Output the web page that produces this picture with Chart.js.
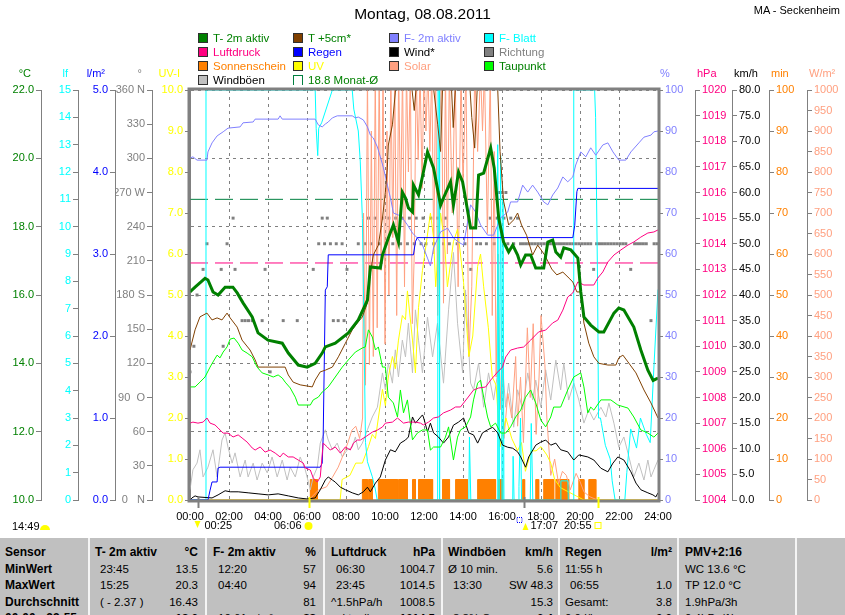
<!DOCTYPE html>
<html lang="de">
<head>
<meta charset="utf-8">
<title>Montag, 08.08.2011 - MA - Seckenheim</title>
<script src="https://cdn.jsdelivr.net/npm/chart.js@4.4.1/dist/chart.umd.min.js"></script>
<style>
body { margin: 0; background: #fff; font-family: "Liberation Sans", Arial, sans-serif; }
#wrap { position: relative; width: 845px; height: 615px; overflow: hidden; }
#wetterChart { position: absolute; left: 0; top: 0; }
#titel { position: absolute; left: 0; top: 5px; width: 845px; text-align: center; font-size: 15.5px; }
#station { position: absolute; right: 5px; top: 4px; font-size: 11px; }
#legend { position: absolute; left: 198px; top: 31px; display: grid; grid-template-columns: 95px 96px 95px 96px; }
.legend-item { display: flex; align-items: center; height: 14px; font-size: 11.5px; white-space: nowrap; }
.legend-color { width: 8px; height: 8px; border: 1px solid #303030; margin-right: 5px; flex: none; }
#tabelle { position: absolute; left: 0; top: 538px; width: 845px; height: 90px; background: #c0c0c0; display: flex; padding-top: 6px; box-sizing: border-box; }
.spalte { height: 100%; box-sizing: border-box; }
.spalte + .spalte { border-left: 2px solid #f4f4f4; margin-top: -6px; padding-top: 6px; }
.z { height: 16.5px; line-height: 16.5px; display: flex; justify-content: space-between; font-size: 11.5px; white-space: nowrap; }
.b { font-weight: bold; font-size: 12px; }
.e { padding-left: 5px; }
</style>
</head>
<body>
<div id="wrap">
  <canvas id="wetterChart" width="845" height="535"></canvas>
  <div id="titel">Montag, 08.08.2011</div>
  <div id="station">MA - Seckenheim</div>
  <div id="legend"></div>

  <div id="tabelle">
    <div class="spalte" style="width:88px; padding-left:5px">
      <div class="z b">Sensor</div>
      <div class="z b">MinWert</div>
      <div class="z b">MaxWert</div>
      <div class="z b">Durchschnitt</div>
      <div class="z b">00:00 - 23:55</div>
    </div>
    <div class="spalte" style="width:117px; padding-left:5px; padding-right:7px">
      <div class="z b"><span>T- 2m aktiv</span><span>°C</span></div>
      <div class="z"><span class="e">23:45</span><span>13.5</span></div>
      <div class="z"><span class="e">15:25</span><span>20.3</span></div>
      <div class="z"><span class="e">( - 2.37 )</span><span>16.43</span></div>
      <div class="z"><span></span><b>13.6</b></div>
    </div>
    <div class="spalte" style="width:118px; padding-left:6px; padding-right:7px">
      <div class="z b"><span>F- 2m aktiv</span><span>%</span></div>
      <div class="z"><span class="e">12:20</span><span>57</span></div>
      <div class="z"><span class="e">04:40</span><span>94</span></div>
      <div class="z"><span></span><span>81</span></div>
      <div class="z"><span class="e">10.61 g/m³</span><b>88</b></div>
    </div>
    <div class="spalte" style="width:118px; padding-left:6px; padding-right:6px">
      <div class="z b"><span>Luftdruck</span><span>hPa</span></div>
      <div class="z"><span class="e">06:30</span><span>1004.7</span></div>
      <div class="z"><span class="e">23:45</span><span>1014.5</span></div>
      <div class="z"><span>^1.5hPa/h</span><span>1008.5</span></div>
      <div class="z"><span class="e">aktuell</span><b>▲1014.5</b></div>
    </div>
    <div class="spalte" style="width:117px; padding-left:5px; padding-right:5px">
      <div class="z b"><span>Windböen</span><span>km/h</span></div>
      <div class="z"><span>Ø 10 min.</span><span>5.6</span></div>
      <div class="z"><span class="e">13:30</span><span>SW 48.3</span></div>
      <div class="z"><span></span><span>15.3</span></div>
      <div class="z"><span class="e">3.8% S</span><b>6.4</b></div>
    </div>
    <div class="spalte" style="width:119px; padding-left:5px; padding-right:5px">
      <div class="z b"><span>Regen</span><span>l/m²</span></div>
      <div class="z"><span>11:55 h</span><span></span></div>
      <div class="z"><span class="e">06:55</span><span>1.0</span></div>
      <div class="z"><span>Gesamt:</span><span>3.8</span></div>
      <div class="z"><span>0.0 l/h</span><b>0.0</b></div>
    </div>
    <div class="spalte" style="width:118px; padding-left:6px">
      <div class="z b">PMV+2:16</div>
      <div class="z">WC 13.6 °C</div>
      <div class="z">TP 12.0 °C</div>
      <div class="z">1.9hPa/3h</div>
      <div class="z">0.4hPa/1h</div>
    </div>
    <div class="spalte" style="width:50px"></div>
  </div>
</div>

<script>
// Messwerte 08.08.2011, je Paar [Stunde, Wert]
var t2m = [[0,16.09],[0.26,16.23],[0.77,16.49],[0.92,16.44],[1.18,16.09],[1.44,16.0],[1.8,16.23],[2.2,16.23],[2.42,16.06],[2.72,15.77],[3.19,15.36],[3.49,14.89],[4.0,14.68],[4.73,14.59],[5.04,14.3],[5.55,13.95],[6.01,13.89],[6.42,14.0],[6.78,14.3],[6.94,14.48],[7.45,14.59],[8.12,14.89],[8.63,15.27],[9.1,15.85],[9.25,16.82],[9.76,16.79],[9.87,17.17],[10.17,17.67],[10.43,18.05],[10.69,17.55],[10.89,19.01],[11.05,18.84],[11.2,18.55],[11.41,18.43],[11.46,19.22],[11.72,18.93],[11.97,19.6],[12.18,20.19],[12.49,19.72],[12.85,18.63],[13.0,18.84],[13.36,19.31],[13.51,18.63],[13.77,19.6],[13.98,19.31],[14.39,17.96],[14.65,17.96],[14.8,19.51],[15.06,19.57],[15.42,20.3],[15.6,19.72],[15.83,18.25],[16.08,17.55],[16.34,17.26],[16.55,17.46],[16.8,17.17],[16.96,16.88],[17.21,17.17],[17.47,17.17],[17.73,16.79],[18.14,16.79],[18.35,17.55],[18.6,17.61],[18.76,17.26],[19.01,17.11],[19.17,17.38],[19.53,17.32],[19.89,17.08],[20.04,16.09],[20.2,15.36],[20.55,15.12],[20.97,14.92],[21.22,14.92],[21.74,15.47],[21.99,15.62],[22.25,15.56],[22.76,15.06],[23.12,14.39],[23.48,13.8],[23.75,13.5],[24,13.57]];

var t5cm = [[0,14.39],[0.26,14.98],[0.51,15.36],[0.87,15.47],[1.13,15.27],[1.39,15.33],[1.64,15.27],[1.9,15.47],[2.06,15.33],[2.42,15.06],[2.67,14.68],[3.08,14.39],[3.34,14.1],[3.49,13.89],[3.85,13.89],[4.88,13.89],[5.04,13.66],[5.29,13.45],[5.65,13.37],[6.27,13.31],[6.42,13.51],[6.68,13.75],[6.94,13.8],[7.3,13.89],[7.61,14.19],[7.97,14.59],[8.32,14.98],[8.58,15.18],[8.84,15.36],[9.1,15.77],[9.15,16.29],[9.4,17.17],[9.66,17.46],[9.87,18.25],[10.02,19.01],[10.12,19.72],[10.17,20.39],[10.38,20.98],[10.53,21.94],[10.8,23.5],[11.2,23],[11.5,21.4],[11.8,23.5],[12.3,23],[12.7,21.0],[12.85,20.2],[13.0,23],[13.3,23.5],[13.5,20.9],[13.7,23],[14.2,23.5],[14.45,21.2],[14.6,20.3],[14.8,23],[15.5,24],[15.75,22.5],[15.9,20.2],[16.08,18.75],[16.34,18.05],[16.6,18.2],[16.8,18.4],[17.0,18.05],[17.26,17.75],[17.57,17.17],[17.83,17.46],[18.19,17.17],[18.55,16.76],[18.81,16.59],[19.12,16.67],[19.48,16.47],[19.63,16.38],[19.84,16.09],[20.04,16.09],[20.2,15.18],[20.45,14.59],[20.71,14.19],[20.97,14.0],[21.43,13.95],[21.84,13.95],[21.99,14.16],[22.2,14.24],[22.46,14.04],[22.87,13.72],[23.28,13.22],[23.64,12.84],[24,12.4]];

var taupunkt = [[0,13.31],[0.26,13.31],[0.51,13.45],[0.77,13.6],[1.03,13.89],[1.18,14.04],[1.39,14.24],[1.54,14.16],[1.7,14.33],[1.9,14.48],[2.06,14.71],[2.26,14.74],[2.47,14.59],[2.67,14.39],[2.93,14.3],[3.19,14.19],[3.44,13.89],[3.7,13.72],[4.01,13.66],[4.27,13.6],[4.52,13.66],[4.73,13.57],[4.88,13.45],[5.14,13.28],[5.4,13.01],[5.55,12.78],[6.17,12.78],[6.32,12.93],[6.58,13.01],[6.78,13.16],[7.09,13.31],[7.45,13.6],[7.81,13.89],[8.12,14.1],[8.48,14.33],[8.84,14.45],[8.99,14.48],[9.15,14.98],[9.35,14.77],[9.51,14.39],[9.66,14.48],[9.87,13.89],[10.02,13.89],[10.17,13.01],[10.43,12.84],[10.64,12.43],[10.79,13.22],[10.95,12.55],[11.15,12.93],[11.41,11.76],[11.66,11.96],[11.92,12.05],[12.18,12.05],[12.33,11.46],[12.49,11.55],[12.85,11.55],[13.1,11.84],[13.26,12.14],[13.51,11.17],[13.72,11.84],[13.87,12.05],[14.13,12.14],[14.39,12.43],[14.54,12.93],[14.75,13.42],[14.9,13.51],[15.06,13.01],[15.26,12.43],[15.42,12.14],[15.67,12.25],[15.93,11.96],[16.19,11.96],[16.44,12.14],[16.7,12.43],[16.96,12.63],[17.21,13.01],[17.47,13.22],[17.73,12.84],[17.99,12.34],[18.24,12.14],[18.5,12.43],[18.65,12.72],[19.01,12.72],[19.37,13.22],[19.68,13.6],[20.04,13.72],[20.2,13.31],[20.4,12.55],[20.55,12.72],[20.71,12.63],[21.07,12.93],[21.58,12.93],[21.94,12.78],[22.46,12.69],[22.76,12.43],[23.12,12.05],[23.48,11.96],[23.79,11.84],[24,11.96]];

var feuchte = [[0,83.4],[0.15,83.7],[0.36,82.9],[0.87,82.9],[0.92,84.9],[1.13,87.1],[1.39,88.8],[1.7,89.8],[1.95,90.7],[2.57,91.0],[2.72,92.0],[3.24,92.2],[3.34,92.9],[4.52,92.9],[4.62,93.7],[4.73,92.9],[6.42,92.9],[6.58,91.5],[6.78,91.0],[6.94,91.7],[7.09,92.2],[7.3,93.2],[7.55,93.7],[8.32,93.7],[8.48,93.2],[8.63,93.4],[8.89,92.7],[9.1,91.0],[9.25,89.0],[9.4,88.3],[9.61,86.1],[9.76,83.7],[9.92,81.0],[10.12,76.8],[10.28,73.7],[10.43,70.0],[10.69,69.5],[10.89,68.8],[11.15,67.1],[11.41,65.1],[11.66,63.9],[11.92,62.2],[12.18,59.0],[12.33,57.1],[12.49,61.5],[12.85,65.4],[13.21,66.3],[13.51,63.9],[13.77,62.9],[14.03,62.2],[14.39,72.0],[14.65,70.2],[14.9,67.1],[15.26,64.6],[15.57,64.6],[15.93,68.8],[16.29,70.2],[16.44,72.7],[16.8,72.7],[17.06,76.8],[17.32,75.1],[17.57,76.8],[17.83,75.1],[18.14,72.7],[18.35,72.0],[18.6,74.4],[18.86,76.1],[19.12,78.8],[19.37,77.6],[19.63,78.8],[19.78,81.7],[20.04,84.9],[20.3,83.7],[20.55,85.9],[20.81,84.1],[21.17,86.6],[21.43,87.1],[21.69,84.9],[21.99,82.9],[22.35,82.9],[22.61,84.9],[23.02,87.1],[23.28,88.5],[23.64,89.0],[23.79,89.8],[24,90.0]];

var blatt = [[0,0],[0.8,0],[0.82,15],[6.42,15],[6.47,13.6],[6.55,12.6],[6.6,13.6],[6.75,13.8],[7.3,15],[8.32,15],[8.4,14.3],[8.63,13.5],[8.73,12.4],[8.84,10.3],[8.89,7.9],[9.0,2.1],[9.1,1.4],[9.35,0.85],[9.5,0.4],[9.6,0],[12.7,0],[12.72,15],[12.77,15],[12.8,0],[14.3,0],[14.33,2.3],[14.4,0],[15.75,0],[15.78,13.0],[15.85,0],[15.93,12.6],[16.0,0],[16.05,11.0],[16.1,0],[16.55,0],[16.57,1.6],[16.62,0],[16.85,0],[16.87,0.5],[16.95,3.0],[17.0,0],[17.45,0],[17.5,2.8],[17.58,0],[19.0,0],[19.02,0.7],[19.38,0.7],[19.4,0],[19.66,0],[19.68,15],[20.75,15],[20.8,14.0],[20.9,8],[20.95,3.0],[21.05,3.0],[21.1,2.8],[21.3,2.0],[21.55,1.5],[21.65,0.7],[21.8,0],[22.3,0],[22.4,1.0],[22.6,2.6],[22.9,1.9],[23.1,3.0],[23.4,2.4],[23.6,2.1],[23.8,5.0],[24,7.7]];

var luftdruck = [[0,1007.0],[0.15,1007.04],[0.41,1007.0],[0.67,1007.04],[0.87,1007.2],[1.03,1007.0],[1.28,1006.93],[1.44,1006.81],[1.7,1006.61],[1.95,1006.61],[2.21,1006.46],[2.47,1006.54],[2.67,1006.42],[2.93,1006.26],[3.19,1006.03],[3.34,1005.95],[3.6,1006.07],[3.85,1005.87],[4.11,1005.95],[4.37,1005.83],[4.62,1005.68],[4.78,1005.83],[5.04,1005.68],[5.29,1005.68],[5.55,1005.56],[5.81,1005.44],[5.91,1005.25],[6.17,1005.17],[6.32,1004.86],[6.53,1004.7],[6.68,1004.9],[6.83,1006.22],[7.04,1006.07],[7.19,1005.95],[7.45,1006.07],[7.71,1005.83],[7.97,1006.07],[8.22,1005.95],[8.38,1006.22],[8.58,1006.34],[8.74,1006.34],[8.99,1006.46],[9.35,1006.65],[9.61,1006.73],[9.87,1006.85],[10.02,1007.0],[10.38,1007.04],[10.64,1007.2],[10.95,1007.0],[11.2,1007.04],[11.56,1007.04],[11.82,1007.0],[11.97,1006.93],[12.23,1007.04],[12.49,1007.2],[12.74,1007.24],[13.0,1007.4],[13.36,1007.51],[13.62,1007.63],[13.87,1007.63],[14.23,1007.98],[14.54,1008.29],[14.8,1008.37],[15.16,1008.41],[15.42,1008.68],[15.78,1009.0],[16.03,1009.19],[16.19,1009.58],[16.44,1009.85],[16.8,1009.93],[17.11,1009.97],[17.47,1010.24],[17.88,1010.56],[18.24,1010.63],[18.6,1010.91],[18.86,1011.02],[19.12,1011.41],[19.37,1011.92],[19.63,1012.08],[19.89,1012.51],[20.2,1012.39],[20.71,1012.39],[20.91,1012.66],[21.17,1012.9],[21.43,1013.29],[21.74,1013.56],[22.1,1013.76],[22.46,1013.95],[22.76,1014.07],[23.12,1014.26],[23.48,1014.42],[23.79,1014.46],[24,1014.54]];

var regen = [[0,0],[0.92,0],[1.03,0.12],[1.13,0.22],[1.39,0.22],[1.44,0.39],[1.54,0.4],[6.68,0.4],[6.78,0.45],[6.83,0.77],[6.94,2.56],[7.04,2.6],[7.09,2.99],[11.46,2.99],[11.56,3.15],[11.66,3.2],[19.63,3.2],[19.73,3.35],[19.84,3.76],[19.89,3.8],[24,3.8]];

var wind = [[0,0],[0.1,0.4],[0.26,0.8],[0.41,0.6],[1.13,0.4],[1.44,1.0],[1.8,1.8],[2.06,1.6],[2.47,1.6],[2.98,1.4],[3.49,1.2],[4.01,1.0],[4.52,1.2],[5.04,0.8],[5.55,0.4],[6.01,0.2],[6.42,0.4],[6.68,2.0],[6.94,3.9],[7.09,4.5],[7.3,3.9],[7.45,3.5],[7.71,2.5],[7.97,2.0],[8.32,1.4],[8.63,1.0],[8.89,1.6],[9.1,2.5],[9.25,1.6],[9.51,3.3],[9.76,4.5],[10.02,7.8],[10.28,9.8],[10.53,9.4],[10.79,11.1],[11.05,11.7],[11.2,12.3],[11.41,16.2],[11.56,15.0],[11.92,16.6],[11.97,16.2],[12.18,13.3],[12.33,15.0],[12.49,13.1],[12.74,12.3],[13.0,11.1],[13.26,12.3],[13.51,14.6],[13.77,15.2],[14.03,16.0],[14.29,13.1],[14.54,12.7],[14.75,11.1],[15.0,13.1],[15.26,13.7],[15.52,14.2],[15.78,13.1],[16.03,10.7],[16.29,10.3],[16.55,10.1],[16.8,9.4],[16.96,8.4],[17.21,6.4],[17.37,8.4],[17.73,10.7],[17.99,11.3],[18.24,11.7],[18.5,10.7],[18.76,11.1],[19.01,9.8],[19.37,9.4],[19.68,7.8],[19.94,8.8],[20.4,8.4],[20.71,7.8],[21.07,6.2],[21.43,5.5],[21.69,7.2],[21.94,8.4],[22.25,7.8],[22.61,5.5],[22.87,3.3],[23.12,2.0],[23.48,1.4],[23.74,1.0],[23.89,0.6],[24,1.4]];

var boeen = [[0,2.0],[0.15,5.9],[0.36,7.2],[0.51,9.8],[0.67,4.5],[0.92,6.4],[1.18,9.8],[1.39,4.5],[1.64,11.7],[1.8,13.1],[1.95,10.3],[2.16,7.2],[2.31,9.2],[2.57,4.5],[2.83,7.8],[2.98,4.5],[3.24,7.2],[3.44,3.9],[3.7,7.2],[3.96,5.3],[4.21,8.4],[4.47,4.5],[4.73,7.8],[4.98,3.9],[5.14,6.4],[5.4,4.5],[5.65,8.4],[5.91,5.9],[6.17,2.0],[6.32,4.5],[6.53,6.4],[6.68,11.1],[6.94,13.7],[7.09,11.7],[7.3,9.8],[7.55,11.1],[7.81,8.4],[8.07,9.8],[8.32,10.3],[8.48,12.3],[8.63,9.8],[8.84,11.1],[9.1,13.7],[9.35,16.2],[9.61,18.1],[9.87,24.8],[10.02,21.5],[10.17,26.7],[10.38,22.8],[10.53,29.3],[10.69,24.0],[10.89,31.2],[11.05,27.9],[11.2,34.5],[11.41,24.8],[11.56,37.1],[11.72,31.2],[11.92,24.8],[12.18,35.7],[12.44,27.9],[12.69,34.5],[13.0,22.8],[13.26,37.1],[13.51,48.3],[13.72,34.5],[13.98,24.8],[14.13,41.0],[14.39,22.8],[14.54,21.5],[14.8,26.7],[15.06,18.1],[15.31,24.8],[15.57,19.5],[15.78,24.8],[16.03,26.0],[16.19,18.1],[16.34,22.8],[16.6,14.2],[16.8,21.5],[17.06,17.6],[17.32,24.8],[17.57,19.5],[17.73,23.4],[17.99,18.1],[18.24,25.4],[18.5,19.5],[18.76,27.3],[19.01,21.5],[19.17,26.7],[19.42,19.5],[19.68,22.8],[19.94,19.5],[20.2,15.0],[20.45,17.6],[20.71,15.6],[21.07,18.1],[21.33,16.2],[21.48,18.9],[21.74,15.0],[21.99,10.3],[22.25,12.3],[22.51,8.4],[22.76,4.5],[23.02,7.2],[23.28,3.9],[23.48,7.8],[23.64,4.5],[23.79,5.9],[24,7.8]];

var uv = [[0,0],[7.7,0],[7.8,0.5],[8.2,0.6],[8.5,0.9],[8.84,0.9],[9.15,1.3],[9.35,1.6],[9.51,1.5],[9.66,2.0],[9.87,2.7],[10.02,2.3],[10.17,3.0],[10.38,3.5],[10.53,3.2],[10.69,3.9],[10.89,4.5],[11.05,4.4],[11.15,5.1],[11.41,3.9],[11.56,3.1],[11.72,4.7],[11.92,5.6],[12.1,6.2],[12.33,7.0],[12.49,6.4],[12.6,5.2],[12.85,7.0],[13.05,6.3],[13.2,5.2],[13.51,6.3],[13.72,6.6],[13.87,6.0],[14.03,5.3],[14.3,3.5],[14.5,4.0],[14.75,5.7],[14.9,6.0],[15.06,5.2],[15.3,4.2],[15.5,3.0],[15.7,2.8],[15.9,1.3],[16.2,2.0],[16.5,1.5],[16.8,1.2],[17.0,1.4],[17.2,0.7],[17.5,1.2],[17.75,1.2],[18.0,1.3],[18.3,1.1],[18.5,0.9],[18.7,0.5],[19.0,0.3],[19.4,0.2],[19.8,0.1],[20.2,0],[24,0]];

var solar = [[0,0],[6.1,0],[6.3,10],[6.6,25],[7.0,32],[7.3,55],[7.6,80],[7.9,115],[8.1,140],[8.3,170],[8.5,180],[8.7,150],[8.85,200],[8.9,700],[9.0,280],[9.1,1050],[9.2,330],[9.3,900],[9.4,350],[9.5,1050],[9.6,420],[9.7,1050],[9.8,560],[9.9,1050],[10.0,380],[10.1,900],[10.2,500],[10.3,1050],[10.4,640],[10.5,1050],[10.6,450],[10.7,1050],[10.8,700],[10.9,1050],[11.0,520],[11.1,1050],[11.2,800],[11.3,1050],[11.4,430],[11.5,600],[11.6,1050],[11.7,830],[11.8,1050],[11.9,760],[12.0,1050],[12.1,900],[12.2,1050],[12.3,850],[12.4,1050],[12.5,600],[12.6,1050],[12.7,450],[12.8,880],[12.9,1050],[13.0,480],[13.1,1050],[13.2,600],[13.3,1050],[13.45,700],[13.6,1050],[13.75,520],[13.9,1050],[14.0,760],[14.15,1050],[14.3,350],[14.45,520],[14.6,1050],[14.75,850],[14.9,1050],[15.0,900],[15.1,1050],[15.25,650],[15.4,1050],[15.5,450],[15.6,850],[15.7,300],[15.8,600],[15.9,220],[16.0,350],[16.1,150],[16.3,260],[16.5,200],[16.7,350],[16.8,180],[16.95,300],[17.1,140],[17.3,420],[17.45,250],[17.6,430],[17.75,160],[17.9,300],[18.0,450],[18.2,330],[18.3,200],[18.5,60],[18.7,100],[18.9,40],[19.1,70],[19.3,60],[19.5,25],[19.8,65],[20.0,45],[20.2,20],[20.5,8],[20.9,0],[24,0]];

var richtung = [[0.0,112.5],[0.2,135],[0.36,180],[0.67,202.5],[0.87,225],[1.6,202.5],[1.7,135],[1.9,225],[2.21,247.5],[2.31,202.5],[2.67,157.5],[2.83,157.5],[3.0,157.5],[3.19,157.5],[3.7,157.5],[3.85,202.5],[4.11,112.5],[4.78,157.5],[5.5,157.5],[6.32,202.5],[6.6,225],[6.78,247.5],[6.9,225],[7.04,247.5],[7.2,225],[7.35,157.5],[7.5,225],[7.6,157.5],[7.8,225],[7.9,157.5],[8.05,202.5],[8.63,225],[9.0,225],[9.15,247.5],[9.3,225],[9.5,247.5],[9.7,225],[9.85,247.5],[10.05,225],[10.2,247.5],[10.4,225],[10.55,247.5],[10.8,225],[10.9,247.5],[11.15,225],[11.25,247.5],[11.5,225],[11.6,247.5],[11.85,225],[11.95,247.5],[12.1,225],[12.35,247.5],[12.5,225],[12.7,247.5],[13.0,225],[13.1,247.5],[13.3,225],[13.7,225],[14.1,225],[14.4,202.5],[14.7,225],[14.9,225],[15.2,225],[15.4,247.5],[15.6,225],[15.75,247.5],[15.85,270],[16.0,270],[16.1,247.5],[16.2,270],[16.3,225],[16.45,247.5],[16.6,225],[16.8,247.5],[16.95,225],[17.1,225],[17.25,225],[17.4,225],[17.55,225],[17.7,225],[17.85,225],[18.0,225],[18.15,225],[18.3,225],[18.45,225],[18.6,225],[18.75,225],[18.9,225],[19.05,225],[19.2,225],[19.35,225],[19.5,225],[19.65,225],[19.8,225],[19.95,225],[20.1,225],[20.25,225],[20.4,225],[20.55,225],[20.7,202.5],[20.85,225],[21.0,225],[21.15,225],[21.3,225],[21.45,225],[21.6,225],[21.75,225],[21.9,225],[22.05,225],[22.2,225],[22.35,225],[22.6,202.5],[22.8,225],[22.95,225],[23.1,225],[23.25,225],[23.4,225],[23.64,157.5],[23.8,225],[23.95,225]];

// Sonnenschein: Intervalle mit 5 min Sonne je 5-Minuten-Takt
var sonnenIntervalle = [[6.17,6.53],[8.84,9.1],[9.15,9.35],[9.66,10.64],[10.69,11.15],[11.41,11.56],[11.72,12.44],[12.95,13.31],[13.62,14.23],[14.75,15.67],[15.83,16.03],[17.06,17.16],[17.73,17.88],[18.14,18.65],[18.76,19.42],[19.94,20.2],[20.45,20.81]];
var sonnenMinuten = 5;

var monatMittel = 18.8;
var normalDruck = 1013.25;

var zeitLabels = ['00:00', '02:00', '04:00', '06:00', '08:00', '10:00', '12:00', '14:00', '16:00', '18:00', '20:00', '22:00', '24:00'];
var richtungLabels = { 360: '360 N', 270: '270 W', 180: '180 S', 90: '90  O', 0: '0   N' };

// Auf- und Untergang (Mond / Sonne)
var astroZeiten = [0.4167, 6.1, 17.1167, 20.9167];
var astroTexte = ['00:25', '06:06', '17:07', '20:55'];
var astroArt = ['mondUnter', 'sonneAuf', 'mondAuf', 'sonneUnter'];
var tageslaenge = '14:49';

var einheiten = {
    temp: ['°C', '#008000'], blatt: ['lf', '#00FFFF'], regen: ['l/m²', '#0000FF'], richtung: ['°', '#808080'], uv: ['UV-I', '#FFFF00'],
    feuchte: ['%', '#8080FF'], druck: ['hPa', '#FF0080'], wind: ['km/h', '#000000'], sonne: ['min', '#FF8000'], solar: ['W/m²', '#FFA080']
};

var legende = [
    ['T- 2m aktiv', '#008000', '#008000'], ['T +5cm*', '#804000', '#008000'], ['F- 2m aktiv', '#8080FF', '#8080FF'], ['F- Blatt', '#00FFFF', '#00FFFF'],
    ['Luftdruck', '#FF0080', '#FF0080'], ['Regen', '#0000FF', '#0000FF'], ['Wind*', '#000000', '#000000'], ['Richtung', '#808080', '#808080'],
    ['Sonnenschein', '#FF8000', '#FF8000'], ['UV', '#FFFF00', '#FFFF00'], ['Solar', '#FFA080', '#FFA080'], ['Taupunkt', '#00FF00', '#008000'],
    ['Windböen', '#C0C0C0', '#000000'], ['18.8 Monat-Ø', null, '#008000']
];

function punkte(liste) {
    return liste.map(function (p) { return { x: p[0], y: p[1] }; });
}

function sonnenPunkte() {
    var pts = [{ x: 0, y: 0 }];
    sonnenIntervalle.forEach(function (iv) {
        pts.push({ x: iv[0], y: 0 }, { x: iv[0], y: sonnenMinuten }, { x: iv[1], y: sonnenMinuten }, { x: iv[1], y: 0 });
    });
    pts.push({ x: 24, y: 0 });
    return pts;
}

function achse(pos, min, max, step, farbe, gewicht, breite, format) {
    return {
        type: 'linear', position: pos, min: min, max: max, weight: gewicht,
        afterFit: function (scale) { scale.width = breite; },
        grid: { drawOnChartArea: false, color: '#808080', tickLength: 5, tickBorderDash: [] },
        border: { color: '#808080', width: 1 },
        ticks: { stepSize: step, color: farbe, padding: 2, autoSkip: false, callback: format }
    };
}

function eineStelle(v) { return v.toFixed(1); }
function ganz(v) { return String(v); }

// nur die °C-Achse zeichnet waagrechte Gitterlinien (gestrichelt)
var tempAchse = achse('left', 10, 22, 2, '#008000', 4, 37, eineStelle);
tempAchse.grid = { drawOnChartArea: true, color: '#808080', tickBorderDash: [], tickLength: 5 };
tempAchse.border = { color: '#808080', width: 1, dash: [3, 4] };

var ctx = document.getElementById('wetterChart').getContext('2d');
Chart.defaults.font.family = '"Liberation Sans", Arial, sans-serif';
Chart.defaults.font.size = 11;
Chart.defaults.color = '#000';

var rahmen = {
    id: 'rahmen',
    afterDatasetsDraw: function (chart) {
        var a = chart.chartArea, c = chart.ctx;
        c.save();
        c.strokeStyle = '#808080';
        c.lineWidth = 3;
        c.strokeRect(a.left - 1, a.top - 1, a.right - a.left + 2, a.bottom - a.top + 2);
        c.restore();
    }
};

var einheitenPlugin = {
    id: 'einheiten',
    afterDraw: function (chart) {
        var c = chart.ctx;
        c.save();
        c.font = '11px "Liberation Sans", Arial, sans-serif';
        c.textBaseline = 'middle';
        Object.keys(einheiten).forEach(function (id) {
            var s = chart.scales[id];
            c.fillStyle = einheiten[id][1];
            if (s.position === 'left') {
                c.textAlign = 'right';
                c.fillText(einheiten[id][0], s.right - 10, 74);
            } else {
                c.textAlign = 'left';
                c.fillText(einheiten[id][0], s.left + 2, 74);
            }
        });
        c.restore();
    }
};

var astroPlugin = {
    id: 'astro',
    afterDraw: function (chart) {
        var c = chart.ctx, xs = chart.scales.x, unten = chart.chartArea.bottom, y = 526;
        c.save();
        c.font = '11px "Liberation Sans", Arial, sans-serif';
        c.textBaseline = 'middle';
        astroZeiten.forEach(function (t, i) {
            var x = Math.round(xs.getPixelForValue(t)) + 0.5;
            var art = astroArt[i];
            var sonne = art.indexOf('sonne') === 0;
            c.strokeStyle = sonne ? '#FFFF00' : '#808080';
            c.lineWidth = 2;
            c.beginPath(); c.moveTo(x, unten - 3); c.lineTo(x, unten + 8); c.stroke();
            c.fillStyle = '#000';
            if (art === 'mondUnter') {
                c.fillStyle = '#FFFF00';
                c.beginPath(); c.moveTo(x - 4, y - 5); c.lineTo(x + 2, y - 5); c.lineTo(x - 1, y + 2); c.closePath(); c.fill();
                c.fillStyle = '#000'; c.textAlign = 'left'; c.fillText(astroTexte[i], x + 6, y);
            } else if (art === 'sonneAuf') {
                c.fillStyle = '#FFFF00';
                c.beginPath(); c.arc(x - 1, y, 4, 0, Math.PI * 2); c.fill();
                c.fillStyle = '#000'; c.textAlign = 'right'; c.fillText(astroTexte[i], x - 8, y);
            } else if (art === 'mondAuf') {
                c.strokeStyle = '#0000FF'; c.lineWidth = 1; c.setLineDash([1, 1]);
                c.strokeRect(x - 7.5, y - 8.5, 5, 5); c.setLineDash([]);
                c.fillStyle = '#FFFF00';
                c.beginPath(); c.moveTo(x - 2, y + 4); c.lineTo(x + 4, y + 4); c.lineTo(x + 1, y - 3); c.closePath(); c.fill();
                c.fillStyle = '#000'; c.textAlign = 'left'; c.fillText(astroTexte[i], x + 6, y);
            } else {
                c.strokeStyle = '#FFFF00'; c.lineWidth = 1;
                c.strokeRect(x - 3.5, y - 3.5, 6, 6);
                c.fillStyle = '#000'; c.textAlign = 'right'; c.fillText(astroTexte[i], x - 7, y);
            }
        });
        c.textAlign = 'left';
        c.fillStyle = '#000';
        c.fillText(tageslaenge, 12, y + 1);
        c.fillStyle = '#FFFF00';
        c.beginPath(); c.arc(45, y + 4, 5, Math.PI, 0); c.fill();
        c.restore();
    }
};

var myChart = new Chart(ctx, {
    type: 'line',
    data: {
        datasets: [
            { label: 'T- 2m aktiv', data: punkte(t2m), borderColor: '#008000', borderWidth: 3, yAxisID: 'temp' },
            { label: 'Luftdruck', data: punkte(luftdruck), borderColor: '#FF0080', yAxisID: 'druck' },
            { label: 'Taupunkt', data: punkte(taupunkt), borderColor: '#00FF00', yAxisID: 'temp' },
            { label: 'T +5cm*', data: punkte(t5cm), borderColor: '#804000', yAxisID: 'temp' },
            { label: 'Regen', data: punkte(regen), borderColor: '#0000FF', yAxisID: 'regen' },
            { label: 'Wind*', data: punkte(wind), borderColor: '#000000', yAxisID: 'wind' },
            { label: 'F- 2m aktiv', data: punkte(feuchte), borderColor: '#8080FF', yAxisID: 'feuchte' },
            { label: 'F- Blatt', data: punkte(blatt), borderColor: '#00FFFF', yAxisID: 'blatt' },
            { label: 'UV', data: punkte(uv), borderColor: '#FFFF00', yAxisID: 'uv' },
            { label: 'Solar', data: punkte(solar), borderColor: '#FFA080', yAxisID: 'solar' },
            { label: 'Windböen', data: punkte(boeen), borderColor: '#C0C0C0', yAxisID: 'wind' },
            { label: 'Richtung', data: punkte(richtung), showLine: false, pointStyle: 'rect', pointRadius: 2.1, pointBorderWidth: 0, pointBackgroundColor: '#808080', yAxisID: 'richtung' },
            { label: 'Sonnenschein', data: sonnenPunkte(), borderColor: '#FF8000', backgroundColor: '#FF8000', fill: 'origin', yAxisID: 'sonne' },
            { label: '18.8 Monat-Ø', data: [{ x: 0, y: monatMittel }, { x: 24, y: monatMittel }], borderColor: '#008040', borderDash: [18, 7], yAxisID: 'temp' },
            { label: 'Normaldruck', data: [{ x: 0, y: normalDruck }, { x: 24, y: normalDruck }], borderColor: '#FF0080', borderDash: [18, 7], yAxisID: 'druck' }
        ]
    },
    options: {
        responsive: false,
        animation: false,
        events: [],
        layout: { padding: { left: 4, top: 90, right: 0, bottom: 0 } },
        datasets: { line: { pointRadius: 0, borderWidth: 1, tension: 0, fill: false } },
        plugins: { legend: { display: false }, tooltip: { enabled: false } },
        scales: {
            x: {
                type: 'linear', min: 0, max: 24,
                afterFit: function (scale) { scale.height = 35; },
                grid: { color: '#808080', drawTicks: false },
                border: { display: false, dash: [3, 4] },
                ticks: { stepSize: 2, autoSkip: false, maxRotation: 0, padding: 10, color: '#000', callback: function (v) { return zeitLabels[v / 2]; } }
            },
            temp: tempAchse,
            blatt: achse('left', 0, 15, 1, '#00FFFF', 3, 37, ganz),
            regen: achse('left', 0, 5, 1, '#0000FF', 2, 37, eineStelle),
            richtung: achse('left', 0, 360, 30, '#808080', 1, 37, function (v) { return richtungLabels[v] || String(v); }),
            uv: achse('left', 0, 10, 1, '#FFFF00', 0, 38, eineStelle),
            feuchte: achse('right', 0, 100, 10, '#8080FF', 0, 37, ganz),
            druck: achse('right', 1004, 1020, 1, '#FF0080', 1, 37, ganz),
            wind: achse('right', 0, 80, 5, '#000000', 2, 37, eineStelle),
            sonne: achse('right', 0, 100, 10, '#FF8000', 3, 38, ganz),
            solar: achse('right', 0, 1000, 50, '#FFA080', 4, 38, ganz)
        }
    },
    plugins: [rahmen, einheitenPlugin, astroPlugin]
});

function updateLegend() {
    var legend = document.getElementById('legend');
    legend.innerHTML = '';
    legende.forEach(function (eintrag) {
        var legendItem = document.createElement('div');
        legendItem.classList.add('legend-item');
        var legendColor = document.createElement('div');
        legendColor.classList.add('legend-color');
        if (eintrag[1]) {
            legendColor.style.backgroundColor = eintrag[1];
        } else {
            legendColor.style.border = '1px solid #008040';
            legendColor.style.borderBottom = 'none';
            legendColor.style.height = '9px';
        }
        var legendText = document.createElement('div');
        legendText.innerText = eintrag[0];
        legendText.style.color = eintrag[2];
        legendItem.appendChild(legendColor);
        legendItem.appendChild(legendText);
        legend.appendChild(legendItem);
    });
}

updateLegend();
</script>
</body>
</html>
